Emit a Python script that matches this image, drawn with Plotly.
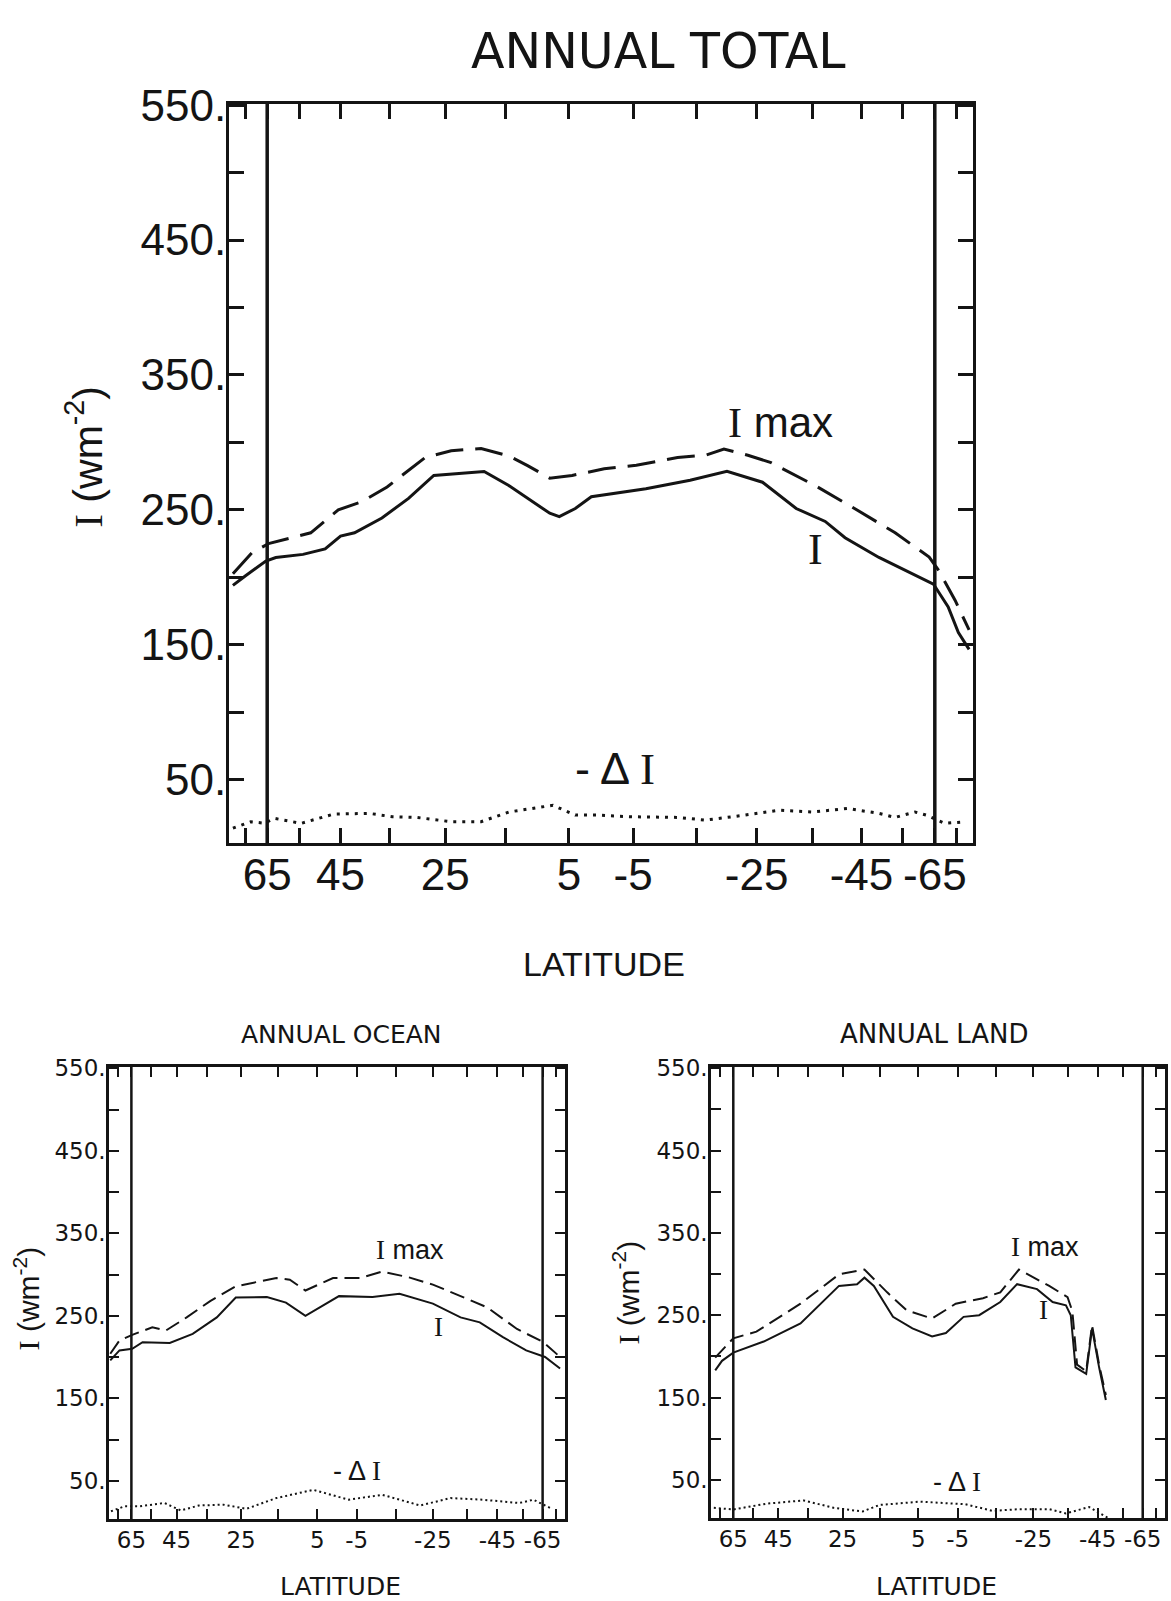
import numpy as np
import plotly.graph_objects as go

W, H = 1171, 1601
INK = "#141414"
SANS = "Liberation Sans"
WIDE = "DejaVu Sans"
SERIF_I = '<span style="font-family:Liberation Serif">I</span>'

# ---------------- data: latitude (deg) and flux (W m^-2) ----------------
# ANNUAL TOTAL
total_i_lat = [88, 75, 65.5, 62, 54, 48.5, 45, 42, 36.5, 31.5, 27, 23, 18.5, 14.5, 11, 8, 6.5, 4,
               1.5, -0.5, -7, -14, -20, -26, -32, -37.5, -41.5, -49, -57.5, -64.5, -70.5, -76, -88]
total_i = [194, 201, 212, 214.7, 217, 221, 230.5, 233, 244, 258.5, 275.5, 277, 278.5, 268, 257, 247.5,
           245, 251, 259.7, 261, 265.7, 272, 278.5, 270.5, 251, 241.4, 229.3, 214.7, 202.6, 195, 178, 159, 146.6]

total_imax_lat = [88, 71.5, 64.5, 56, 52, 45.5, 40.5, 35.5, 28.5, 24, 19, 14.5, 11.5, 8, 4.5, -0.5,
                  -5.5, -12, -16.5, -19.5, -23.5, -27.5, -32, -36, -43.5, -53, -63, -66.5, -74, -88]
total_imax = [202.6, 218, 225, 230.5, 233, 250, 256, 267, 288.8, 293.8, 295.5, 290, 282.8, 273.5, 275.5,
              280.4, 283, 288.8, 290.5, 295, 290.5, 285, 275.5, 267, 251, 233, 215, 205, 183, 161]

total_di_lat = [88, 72, 66, 62.5, 54.5, 46.5, 39, 34.5, 30, 24, 19, 14.5, 7.5, 4, 0.5, -4.5, -12,
                -16.5, -23, -29, -35, -42, -49, -53, -58.5, -62, -69, -82]
total_di = [14, 18.8, 17.7, 21.3, 17.6, 24.5, 25, 22.5, 22, 18.8, 18.8, 26, 31, 23.7, 23.7, 22.5, 22,
            20, 23.7, 27.4, 26, 28.6, 25, 22, 26, 23.7, 17.6, 18.8]

# ANNUAL OCEAN
ocean_i_lat = [88, 73.5, 64.5, 59, 47.5, 39.5, 32, 26.5, 18, 13, 8, 4.5, -0.5, -9, -16, -25, -33,
               -39, -47, -56.5, -66.5, -79.5]
ocean_i = [196, 208, 210, 218, 217, 228, 248, 272, 272.6, 266, 250, 260, 273.8, 272.6, 276.6, 264.7,
           248, 242, 224, 208, 200, 186]

ocean_imax_lat = [88, 73.5, 64.5, 54.5, 49, 41.5, 34, 26.5, 15.5, 12, 8, 1, -6, -11.5, -18.5, -25,
                  -33, -41.5, -52.5, -65.5, -79.5]
ocean_imax = [204, 220, 226.8, 236, 232, 248, 267.8, 285.7, 295.8, 293.7, 280.6, 295.8, 295.8, 303.6,
              296.5, 287.8, 273.8, 260, 234, 218, 200]

ocean_di_lat = [85, 69.5, 60.5, 49.5, 43.5, 37.5, 30, 23.5, 15.5, 6, -3, -11.5, -21.5, -30, -40,
                -53.5, -60, -70]
ocean_di = [13, 19, 19, 23, 14, 20, 21, 16, 29, 39, 27, 33, 20, 29, 27, 23, 27, 17]

# ANNUAL LAND
land_i_lat = [80.5, 73, 65, 50.5, 37.5, 26, 21, 19, 16.5, 11.5, 6.5, 1.5, -2, -6.5, -10.5, -16,
              -20.5, -26, -30.5, -34.5, -36, -37.5, -41, -43, -45.5, -48]
land_i = [183, 194.6, 204.5, 218, 240, 285.6, 287.7, 295.6, 285.6, 248, 234, 224.3, 228.3, 248, 250,
          266, 287.7, 281.7, 266, 262, 250, 186.7, 178.7, 234, 186.7, 147]

land_imax_lat = [80.5, 65, 53.5, 37.5, 26, 19, 13, 8, 1.5, -4.5, -11.5, -16, -21, -29.5, -35, -36.5,
                 -38, -41, -43, -45.5, -48]
land_imax = [198.5, 222, 230, 264, 299.6, 305.5, 277.8, 256, 246, 264, 270.7, 277.8, 305.5, 285.6,
             271.9, 255, 190, 182, 238, 190, 153]

land_di_lat = [83, 65, 49.5, 36.5, 27.5, 19.5, 15, 4.5, -7, -14, -21, -29.5, -34.5, -42, -49.5]
land_di = [16, 14, 21, 25, 16, 11.6, 19.5, 23.5, 20.3, 12.3, 14.4, 14.4, 9.2, 17, 2.5]

# axis ticks
lat_labelled = [65, 45, 25, 5, -5, -25, -45, -65]
lat_minor = [75, 55, 35, 15, -15, -35, -55, -75]
flux_labelled = [50, 150, 250, 350, 450, 550]
flux_minor = [100, 200, 300, 400, 500]
polar_lines = [65, -65]


def sinlat(lats):
    return np.sin(np.radians(np.asarray(lats, dtype=float)))


def px(x):
    return x / W


def py(y):
    return 1 - y / H


fig = go.Figure()

panels = [
    ("", (total_i_lat, total_i), (total_imax_lat, total_imax), (total_di_lat, total_di),
     dict(lw=3, dash="28px,12px", dot="3px,6px")),
    ("2", (ocean_i_lat, ocean_i), (ocean_imax_lat, ocean_imax), (ocean_di_lat, ocean_di),
     dict(lw=2, dash="15px,7px", dot="2px,3px")),
    ("3", (land_i_lat, land_i), (land_imax_lat, land_imax), (land_di_lat, land_di),
     dict(lw=2, dash="15px,7px", dot="2px,3px")),
]

for suf, (ilat, ival), (mlat, mval), (dlat, dval), st in panels:
    xa, ya = "x" + suf, "y" + suf
    fig.add_trace(go.Scatter(x=sinlat(mlat), y=mval, mode="lines", xaxis=xa, yaxis=ya,
                             line=dict(color=INK, width=st["lw"], dash=st["dash"]),
                             showlegend=False, hoverinfo="skip"))
    fig.add_trace(go.Scatter(x=sinlat(ilat), y=ival, mode="lines", xaxis=xa, yaxis=ya,
                             line=dict(color=INK, width=st["lw"]),
                             showlegend=False, hoverinfo="skip"))
    fig.add_trace(go.Scatter(x=sinlat(dlat), y=dval, mode="lines", xaxis=xa, yaxis=ya,
                             line=dict(color=INK, width=st["lw"], dash=st["dot"]),
                             showlegend=False, hoverinfo="skip"))


def make_axes(xdom, ydom, xedge, yrange, tick_font, frame_w, tick_len, tick_w, anchor_x, anchor_y,
              xstand, ystand):
    common = dict(ticks="inside", ticklen=tick_len, tickwidth=tick_w, tickcolor=INK,
                  showline=True, linewidth=frame_w, linecolor=INK, mirror="ticks",
                  showgrid=False, zeroline=False,
                  tickfont=dict(color=INK, **tick_font))
    minor_style = dict(ticks="inside", ticklen=tick_len, tickwidth=tick_w, tickcolor=INK,
                       showgrid=False)
    xaxis = dict(domain=xdom, anchor=anchor_y, range=[xedge, -xedge],
                 tickmode="array", tickvals=sinlat(lat_labelled).tolist(),
                 ticktext=[str(v) for v in lat_labelled],
                 minor=dict(tickmode="array", tickvals=sinlat(lat_minor).tolist(), **minor_style),
                 ticklabelstandoff=xstand, **common)
    yaxis = dict(domain=ydom, anchor=anchor_x, range=yrange,
                 tickmode="array", tickvals=flux_labelled,
                 ticktext=[f"{v}." for v in flux_labelled],
                 minor=dict(tickmode="array", tickvals=flux_minor, **minor_style),
                 ticklabelstandoff=ystand, **common)
    return xaxis, yaxis


top_font = dict(family=SANS, size=44)
small_font = dict(family=WIDE, size=23)
top_x, top_y = make_axes([px(229), px(973)], [py(832), py(82)], 1.01, [3, 551], top_font, 3, 15, 2.5,
                         "x", "y", -9, -9)
oc_x, oc_y = make_axes([px(109), px(565)], [py(1518), py(1059)], 1.005, [3.4, 551.8], small_font, 2.5,
                       10, 2, "x2", "y2", -2, -4)
ld_x, ld_y = make_axes([px(711), px(1165)], [py(1517), py(1059)], 1.005, [3.4, 551.8], small_font, 2.5,
                       10, 2, "x3", "y3", -2, -4)

shapes = []
for suf, w in (("", 3.5), ("2", 2.5), ("3", 2.5)):
    for lat in polar_lines:
        xv = float(sinlat([lat])[0])
        shapes.append(dict(type="line", xref="x" + suf, yref=("y" + suf + " domain"),
                           x0=xv, x1=xv, y0=0, y1=1, line=dict(color=INK, width=w)))


def label(text, x, y, size, family=SANS, angle=0):
    return dict(text=text, x=px(x), y=py(y), xref="paper", yref="paper", showarrow=False,
                xanchor="center", yanchor="middle", textangle=angle,
                font=dict(family=family, size=size, color=INK))


ytitle = SERIF_I + " (wm<sup>-2</sup>)"
delta_i = "- \u0394 " + SERIF_I
annotations = [
    # top panel
    label("ANNUAL TOTAL", 659, 29, 49, WIDE),
    label("LATITUDE", 604, 955, 34, SANS),
    label(ytitle, 84, 440, 41, SANS, -90),
    label(SERIF_I + " max", 780, 405, 42),
    label(SERIF_I, 815, 534, 44),
    label(delta_i, 615, 756, 45),
    # ocean
    label("ANNUAL OCEAN", 341, 1026, 25, WIDE),
    label("LATITUDE", 340, 1586, 25, WIDE),
    label(ytitle, 27, 1294, 30, SANS, -90),
    label(SERIF_I + " max", 410, 1245, 27),
    label(SERIF_I, 438, 1323, 27),
    label(delta_i, 357, 1469, 27),
    # land
    label("ANNUAL LAND", 934, 1026, 26, WIDE),
    label("LATITUDE", 936, 1586, 25, WIDE),
    label(ytitle, 627, 1288, 30, SANS, -90),
    label(SERIF_I + " max", 1045, 1242, 27),
    label(SERIF_I, 1043, 1306, 27),
    label(delta_i, 957, 1480, 27),
]

fig.update_layout(
    width=W, height=H,
    margin=dict(l=0, r=0, t=0, b=0),
    paper_bgcolor="white", plot_bgcolor="white",
    xaxis=top_x, yaxis=top_y,
    xaxis2=oc_x, yaxis2=oc_y,
    xaxis3=ld_x, yaxis3=ld_y,
    shapes=shapes, annotations=annotations,
    showlegend=False,
)

# the page body gets no default margin so the figure sits at the window's corner
fig.write_html("out.html", post_script="document.body.style.margin='0';")
